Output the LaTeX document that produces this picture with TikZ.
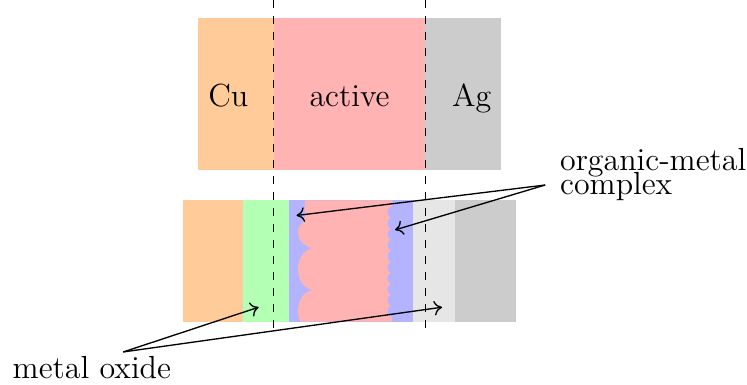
\documentclass[tikz,border=0pt]{standalone}
\usepackage{tikz}
\usetikzlibrary{arrows.meta}
\definecolor{cuorange}{HTML}{FFCC99}
\definecolor{activepink}{HTML}{FFB3B3}
\definecolor{aggray}{HTML}{CCCCCC}
\definecolor{oxidegray}{HTML}{E6E6E6}
\definecolor{oxidegreen}{HTML}{B3FFB3}
\definecolor{complexblue}{HTML}{B3B3FF}
\tikzset{
  tag/.style={font=\large},
  pointer/.style={draw=black, -{To[length=3pt,width=5.5pt]}, line width=0.5pt},
  boundary/.style={draw=black, dashed, line width=0.4pt}
}
\begin{document}
\begin{tikzpicture}[x=1cm,y=1cm]
  \path[use as bounding box] (-2.612,-2.836) rectangle (7.243,2.243);

  % pristine cell
  \fill[cuorange] (0,0) rectangle (1,2);
  \fill[activepink] (1,0) rectangle (3,2);
  \fill[aggray] (3,0) rectangle (4,2);
  \node[tag, anchor=base] (cu) at (0.40,0.844) {Cu};
  \node[tag, anchor=base] (active) at (2.00,0.844) {active};
  \node[tag, anchor=base] (ag) at (3.61,0.844) {Ag};

  % cycled cell
  \fill[cuorange] (-0.2,-2) rectangle (0.6,-0.4);
  \fill[oxidegreen] (0.6,-2) rectangle (1.2,-0.4);
  \fill[complexblue] (1.2,-2) rectangle (2.83,-0.4);
  \fill[oxidegray] (2.83,-2) rectangle (3.39,-0.4);
  \fill[aggray] (3.39,-2) rectangle (4.2,-0.4);
  \fill[activepink] (1.41,-0.4) -- (1.41,-0.62)
    .. controls (1.41,-0.70) and (1.32,-0.72) .. (1.32,-0.82)
    .. controls (1.32,-0.95) and (1.42,-1.00) .. (1.5,-1.033)
    .. controls (1.36,-1.08) and (1.32,-1.20) .. (1.32,-1.308)
    .. controls (1.32,-1.42) and (1.36,-1.54) .. (1.5,-1.583)
    .. controls (1.36,-1.63) and (1.32,-1.75) .. (1.32,-1.86)
    .. controls (1.32,-1.92) and (1.33,-1.96) .. (1.35,-2.0)
    -- (2.56,-2.0) -- (2.56,-0.4) -- cycle;
  \foreach \k in {0,...,9}
    \fill[complexblue] (2.58,{-0.558-0.1451*\k}) circle (0.08);

  \draw[boundary] (1,2.243) -- (1,-2.14);
  \draw[boundary] (3,2.243) -- (3,-2.14);

  % labels
  \node[tag, align=left, anchor=north west, inner sep=0pt] (om) at (4.77,0.29)
    {organic-metal\\[-5pt]complex};
  \node[tag, anchor=base] (mo) at (-1.40,-2.744) {metal oxide};

  \coordinate (omfan) at (4.58,-0.198);
  \coordinate (omleft) at (1.30,-0.60);
  \coordinate (omright) at (2.60,-0.79);
  \coordinate (mofan) at (-0.985,-2.40);
  \coordinate (moleft) at (0.80,-1.81);
  \coordinate (moright) at (3.22,-1.81);
  \draw[pointer] (omfan) -- (omleft);
  \draw[pointer] (omfan) -- (omright);
  \draw[pointer] (mofan) -- (moleft);
  \draw[pointer] (mofan) -- (moright);
\end{tikzpicture}
\end{document}
